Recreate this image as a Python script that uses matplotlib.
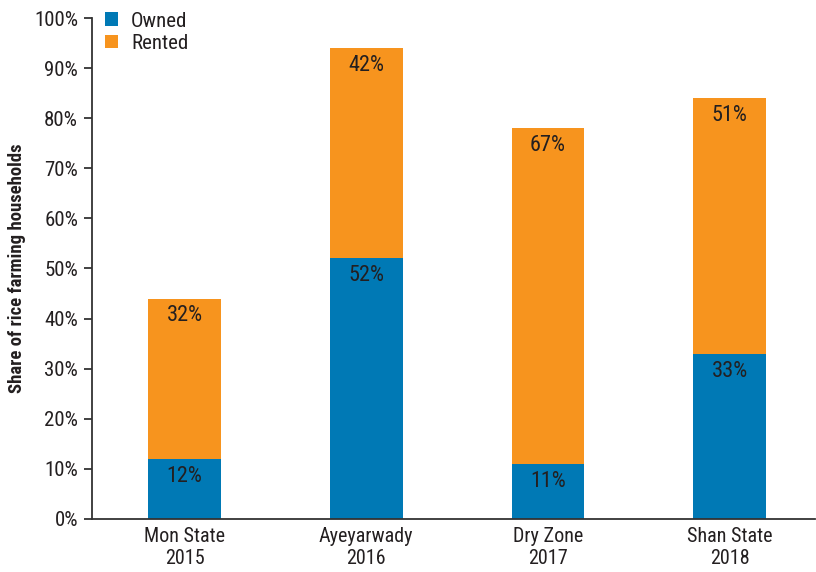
import matplotlib
matplotlib.use("Agg")
import matplotlib.pyplot as plt
from matplotlib import font_manager
from matplotlib.ticker import MultipleLocator, FuncFormatter

categories = ["Mon State\n2015", "Ayeyarwady\n2016", "Dry Zone\n2017", "Shan State\n2018"]
owned = [12, 52, 11, 33]
rented = [32, 42, 67, 51]

BLUE = "#0079b5"
ORANGE = "#f7941e"
TEXT = "#231f20"

names = {f.name for f in font_manager.fontManager.ttflist}
family = "Liberation Sans"
for cand in ["Liberation Sans Narrow", "Roboto Condensed", "DejaVu Sans Condensed"]:
    if cand in names:
        family = cand
        break
plt.rcParams["font.family"] = [family, "DejaVu Sans"]
plt.rcParams["text.color"] = TEXT

fig = plt.figure(figsize=(8.16, 5.72), dpi=100)
ax = fig.add_axes([0.1127, 0.0927, 0.886, 0.8758])

x = list(range(len(categories)))
w = 0.4
ax.bar(x, owned, width=w, color=BLUE, label="Owned", zorder=2)
ax.bar(x, rented, width=w, bottom=owned, color=ORANGE, label="Rented", zorder=2)

for xi, o, r in zip(x, owned, rented):
    ax.annotate(f"{o}%", (xi, o), xytext=(0, -5), textcoords="offset points",
                ha="center", va="top", fontsize=16, color=TEXT)
    ax.annotate(f"{r}%", (xi, o + r), xytext=(0, -5), textcoords="offset points",
                ha="center", va="top", fontsize=16, color=TEXT)

ax.set_xlim(-0.51, 3.47)
ax.set_ylim(0, 100)
ax.yaxis.set_major_locator(MultipleLocator(10))
ax.yaxis.set_major_formatter(FuncFormatter(lambda v, p: f"{int(v)}%"))
ax.set_xticks(x)
ax.set_xticklabels(categories)
ax.tick_params(axis="y", direction="out", length=6, width=1.3, color="#333333",
               labelsize=15, labelcolor=TEXT, pad=4)
ax.tick_params(axis="x", length=0, labelsize=14.5, labelcolor=TEXT, pad=6)

for s in ["top", "right"]:
    ax.spines[s].set_visible(False)
ax.spines["left"].set_color("#333333")
ax.spines["bottom"].set_color("#333333")
ax.spines["left"].set_linewidth(1.3)
ax.spines["bottom"].set_linewidth(1.3)

ax.set_ylabel("Share of rice farming households", fontsize=13.5, fontweight="bold",
              color=TEXT, labelpad=6)

leg = ax.legend(loc="upper left", bbox_to_anchor=(-0.008, 1.05), frameon=False,
                fontsize=15, handlelength=0.65, handleheight=0.65, handletextpad=0.6,
                labelspacing=0.15, borderaxespad=0.5)

fig.savefig("out.png", dpi=100)
